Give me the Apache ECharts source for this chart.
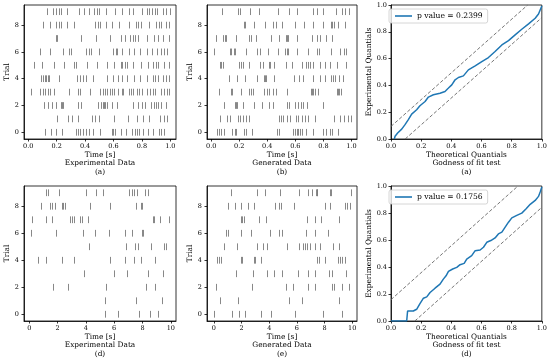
<!DOCTYPE html>
<html><head><meta charset="utf-8">
<script src="https://cdn.jsdelivr.net/npm/echarts@6/dist/echarts.min.js"></script>
<style>html,body{margin:0;padding:0;background:#fff}#c{width:550px;height:362px}</style>
</head><body><div id="c"></div>
<script>
// Spike times per trial (row index = trial 0..9)
const spikesA = [
 [0.118,0.161,0.196,0.239,0.333,0.352,0.366,0.385,0.404,0.428,0.456,0.504,0.586,0.598,0.612,0.652,0.686,0.728,0.752,0.764,0.782,0.806,0.846,0.875,0.920,0.936,0.953],
 [0.201,0.279,0.307,0.350,0.452,0.468,0.499,0.603,0.705,0.764,0.806,0.853,0.924,0.953,0.976],
 [0.109,0.137,0.168,0.196,0.227,0.236,0.243,0.350,0.374,0.492,0.511,0.523,0.534,0.541,0.556,0.586,0.626,0.740,0.771,0.799,0.823,0.865,0.887,0.898,0.910,0.934,0.972],
 [0.019,0.083,0.102,0.121,0.137,0.156,0.184,0.284,0.350,0.362,0.437,0.504,0.527,0.539,0.556,0.574,0.591,0.603,0.634,0.657,0.669,0.707,0.723,0.740,0.764,0.780,0.799,0.835,0.858,0.875,0.894,0.936,0.953,0.976,0.993],
 [0.087,0.106,0.118,0.125,0.137,0.149,0.213,0.345,0.366,0.385,0.409,0.456,0.556,0.598,0.634,0.662,0.693,0.747,0.787,0.835,0.877,0.894,0.913,0.948,0.969,0.988],
 [0.038,0.097,0.180,0.255,0.319,0.333,0.414,0.487,0.556,0.603,0.650,0.662,0.681,0.695,0.740,0.794,0.846,0.877,0.898,0.913,0.953,0.993],
 [0.083,0.154,0.243,0.286,0.298,0.404,0.426,0.444,0.499,0.598,0.617,0.626,0.657,0.707,0.742,0.787,0.835,0.870,0.903,0.934,0.953,0.976],
 [0.196,0.201,0.371,0.480,0.574,0.650,0.681,0.716,0.735,0.752,0.775,0.839,0.882,0.913,0.948,0.988],
 [0.106,0.154,0.196,0.215,0.232,0.274,0.319,0.468,0.492,0.504,0.546,0.586,0.641,0.707,0.757,0.775,0.792,0.849,0.901,0.917,0.936,0.972,0.991],
 [0.132,0.177,0.196,0.215,0.232,0.274,0.355,0.392,0.428,0.463,0.487,0.499,0.546,0.612,0.660,0.709,0.740,0.799,0.835,0.853,0.872,0.891,0.908,0.948,0.972,0.995]
];
const spikesB = [
 [0.043,0.054,0.071,0.090,0.151,0.168,0.180,0.232,0.246,0.291,0.468,0.485,0.586,0.598,0.610,0.622,0.634,0.650,0.676,0.728,0.794,0.816,0.846,0.863,0.905],
 [0.061,0.113,0.132,0.189,0.208,0.227,0.246,0.267,0.487,0.499,0.515,0.539,0.563,0.603,0.622,0.650,0.669,0.688,0.740,0.875,0.917,0.946,0.976,0.995],
 [0.090,0.168,0.177,0.184,0.225,0.307,0.362,0.409,0.444,0.544,0.556,0.598,0.622,0.638,0.657,0.681,0.799],
 [0.054,0.144,0.149,0.215,0.272,0.284,0.296,0.374,0.397,0.409,0.444,0.461,0.541,0.709,0.719,0.728,0.740,0.764,0.894,0.901,0.910,0.924],
 [0.128,0.184,0.241,0.326,0.374,0.381,0.388,0.449,0.591,0.624,0.657,0.723,0.775,0.811,0.858,0.870,0.884,0.913,0.941],
 [0.061,0.071,0.085,0.199,0.215,0.225,0.267,0.345,0.366,0.409,0.421,0.449,0.534,0.574,0.645,0.676,0.693,0.705,0.728,0.775,0.813,0.846,0.898,0.965],
 [0.019,0.132,0.144,0.161,0.173,0.246,0.326,0.345,0.404,0.473,0.527,0.539,0.551,0.610,0.693,0.757,0.771,0.851,0.917,0.946,0.965],
 [0.035,0.085,0.095,0.106,0.180,0.272,0.286,0.319,0.428,0.487,0.534,0.544,0.548,0.610,0.716,0.752,0.775,0.816,0.863],
 [0.234,0.241,0.305,0.381,0.444,0.461,0.508,0.598,0.662,0.728,0.794,0.858,0.865,0.875,0.905,0.953],
 [0.078,0.189,0.206,0.279,0.338,0.473,0.556,0.610,0.728,0.752,0.799,0.887,0.931,0.957,0.983]
];
const spikesD = [
 [5.38,6.26,7.75,8.53,9.10],
 [5.33,7.51,9.41],
 [1.66,2.73,5.45,8.27,8.89],
 [3.89,6.02,6.92,8.41,9.45],
 [0.59,1.18,2.35,3.18,5.73,6.80,7.39,7.91,8.89],
 [4.19,6.87,7.46,7.70,8.58,9.53,9.69],
 [0.12,1.87,3.77,4.62,5.62,6.75,7.23,7.94,8.06],
 [0.17,1.16,1.59,2.89,3.01,3.18,3.60,3.74,4.12,8.77,8.82,9.24,9.88],
 [0.83,1.47,1.59,1.82,2.30,2.42,2.54,4.31,5.73,7.51,7.87,7.99],
 [1.16,1.30,2.11,4.03,4.74,5.19,7.04,7.27,7.39,7.63,8.18,8.41]
];
const spikesE = [
 [0.00,1.33,1.78,2.24,3.37,4.10,5.86,7.86,9.23],
 [0.43,1.71,5.45,6.39,9.06],
 [0.12,2.72,5.20,5.69,6.77,7.30,8.51,8.70,9.23,9.78],
 [1.59,2.80,3.86,4.36,4.89,6.05,6.77,7.30,8.34,8.51,9.52],
 [0.19,0.36,0.48,1.93,2.00,2.89,2.99,3.37,7.47,7.61,8.07,8.99,9.11,9.23,9.47],
 [0.75,1.64,3.13,3.57,3.86,5.30,6.17,6.41,6.58,6.70,6.94,7.30,7.66,8.58,9.04],
 [0.84,1.04,1.93,2.65,4.05,4.72,4.89,6.63,7.30,8.22],
 [1.95,2.05,2.17,3.25,3.76,6.70,7.30,7.71,9.04],
 [1.04,1.52,1.93,2.48,2.89,4.41,4.72,4.82,5.81,8.07,8.39,9.47,9.66,9.83],
 [1.23,3.13,3.73,4.77,6.17,6.77,7.13,7.37,7.45,7.49,8.39,8.46,9.95]
];
// QQ curves
const qqAx = [0.022,0.027,0.044,0.071,0.093,0.115,0.137,0.170,0.192,0.226,0.248,0.281,0.325,0.358,0.381,0.403,0.425,0.447,0.480,0.513,0.558,0.602,0.646,0.690,0.735,0.779,0.823,0.867,0.912,0.956,0.978,0.989,1.0];
const qqAy = [0.0,0.02,0.045,0.074,0.107,0.144,0.186,0.218,0.248,0.280,0.313,0.330,0.342,0.355,0.380,0.404,0.442,0.459,0.471,0.516,0.546,0.578,0.608,0.653,0.702,0.734,0.777,0.819,0.859,0.901,0.933,0.963,0.993];
const qqDx = [0.0,0.104,0.11,0.148,0.170,0.192,0.215,0.237,0.259,0.292,0.325,0.347,0.365,0.381,0.409,0.436,0.458,0.485,0.502,0.535,0.558,0.591,0.613,0.635,0.662,0.690,0.712,0.735,0.757,0.779,0.801,0.834,0.867,0.896,0.923,0.956,0.978,0.989,1.0];
const qqDy = [0.0,0.0,0.074,0.074,0.087,0.129,0.169,0.179,0.211,0.243,0.273,0.310,0.335,0.367,0.385,0.397,0.417,0.427,0.459,0.484,0.521,0.526,0.546,0.583,0.596,0.615,0.645,0.658,0.695,0.732,0.764,0.782,0.799,0.831,0.864,0.893,0.923,0.955,0.993];
const pLabels = ['p value = 0.2399', 'p value = 0.1756'];
const bandA = 0.094, bandD = 0.158;
const rasterTitles = ['Experimental Data\n(a)', 'Generated Data\n(b)', 'Experimental Data\n(d)', 'Generated Data\n(e)'];
const qqTitles = ['Godness of fit test\n(a)', 'Godness of fit test\n(d)'];
const ticks01 = [0, 0.2, 0.4, 0.6, 0.8, 1.0];
const ticks010 = [0, 2, 4, 6, 8, 10];
const trialTicks = [0, 2, 4, 6, 8];

const FONT = 'DejaVu Serif';
const TICK_FS = 6.5, NAME_FS = 7.4;
const chart = echarts.init(document.getElementById('c'), null, {renderer: 'canvas'});

const grids = [
  {left: 24, top: 5, width: 152, height: 134},
  {left: 207, top: 5, width: 150, height: 134},
  {left: 391, top: 5, width: 151, height: 134},
  {left: 24, top: 186, width: 152, height: 135},
  {left: 207, top: 186, width: 150, height: 135},
  {left: 391, top: 186, width: 151, height: 135}
].map(g => Object.assign({show: true, borderColor: '#000', borderWidth: 0.8, containLabel: false}, g));

function baseAxis(extra) {
  return Object.assign({
    type: 'value', splitLine: {show: false},
    axisLine: {show: true, onZero: false, lineStyle: {color: '#000', width: 0.8}},
    axisTick: {show: true, inside: false, length: 2.5, lineStyle: {color: '#000', width: 0.8}},
    axisLabel: {color: '#000', fontFamily: FONT, fontSize: TICK_FS},
    nameTextStyle: {color: '#000', fontFamily: FONT, fontSize: NAME_FS, lineHeight: 8.3},
    nameLocation: 'middle'
  }, extra);
}
function fmt1(v) { return (Math.round(v * 10) / 10).toFixed(1); }

const xAxes = [], yAxes = [];
const rasterCfg = [
  {grid: 0, data: spikesA, min: -0.03, max: 1.04, ticks: ticks01, f: fmt1, t: rasterTitles[0]},
  {grid: 1, data: spikesB, min: -0.03, max: 1.04, ticks: ticks01, f: fmt1, t: rasterTitles[1]},
  {grid: 3, data: spikesD, min: -0.37, max: 10.37, ticks: ticks010, f: v => String(Math.round(v)), t: rasterTitles[2]},
  {grid: 4, data: spikesE, min: -0.5, max: 10.35, ticks: ticks010, f: v => String(Math.round(v)), t: rasterTitles[3]}
];
const series = [];
rasterCfg.forEach((c, i) => {
  xAxes.push(baseAxis({gridIndex: c.grid, min: c.min, max: c.max, name: 'Time [s]\n' + c.t, nameGap: 11.5,
    axisTick: {show: true, length: 2.5, customValues: c.ticks, lineStyle: {color: '#000', width: 0.8}},
    axisLabel: {color: '#000', fontFamily: FONT, fontSize: TICK_FS, margin: 4, customValues: c.ticks, formatter: c.f}}));
  yAxes.push(baseAxis({gridIndex: c.grid, min: -0.5, max: 9.5, name: 'Trial', nameGap: 9.5,
    axisTick: {show: true, length: 2.5, customValues: trialTicks, lineStyle: {color: '#000', width: 0.8}},
    axisLabel: {color: '#000', fontFamily: FONT, fontSize: TICK_FS, margin: 5, customValues: trialTicks, formatter: v => String(Math.round(v))}}));
  const pts = [];
  c.data.forEach((row, r) => row.forEach(t => pts.push([t, r])));
  series.push({
    type: 'custom', xAxisIndex: i, yAxisIndex: i, data: pts, silent: true,
    renderItem: function (params, api) {
      const x = api.value(0), y = api.value(1);
      const p1 = api.coord([x, y - 0.25]), p2 = api.coord([x, y + 0.25]);
      return {type: 'line', shape: {x1: Math.round(p1[0]) + 0.5, y1: p1[1], x2: Math.round(p2[0]) + 0.5, y2: p2[1]},
        style: {stroke: '#7a7a7a', lineWidth: 0.9}};
    }
  });
});
const qqCfg = [
  {grid: 2, xs: qqAx, ys: qqAy, band: bandA, name: pLabels[0], t: qqTitles[0], top: 9},
  {grid: 5, xs: qqDx, ys: qqDy, band: bandD, name: pLabels[1], t: qqTitles[1], top: 190}
];
const legends = [];
qqCfg.forEach((c, j) => {
  const ai = xAxes.length;
  xAxes.push(baseAxis({gridIndex: c.grid, min: 0, max: 1, interval: 0.2, name: 'Theoretical Quantials\n' + c.t, nameGap: 11.5,
    axisLabel: {color: '#000', fontFamily: FONT, fontSize: TICK_FS, margin: 4, formatter: fmt1, showMaxLabel: true, showMinLabel: true}}));
  yAxes.push(baseAxis({gridIndex: c.grid, min: 0, max: 1, interval: 0.2, name: 'Experimental Quantials', nameGap: 18,
    axisLabel: {color: '#000', fontFamily: FONT, fontSize: TICK_FS, margin: 4, formatter: fmt1, showMaxLabel: true, showMinLabel: true}}));
  const dash = {type: 'line', xAxisIndex: ai, yAxisIndex: ai, symbol: 'none', silent: true,
    lineStyle: {color: '#666', width: 0.9, type: [3.5, 2]}};
  series.push(Object.assign({}, dash, {data: [[0, c.band], [1 - c.band, 1]]}));
  series.push(Object.assign({}, dash, {data: [[c.band, 0], [1, 1 - c.band]]}));
  series.push({type: 'line', name: c.name, xAxisIndex: ai, yAxisIndex: ai, symbol: 'none',
    data: c.xs.map((x, k) => [x, c.ys[k]]), lineStyle: {color: '#1f77b4', width: 1.5}, itemStyle: {color: '#1f77b4'}});
  legends.push({data: [c.name], left: 389, top: c.top, orient: 'horizontal', icon: 'rect', itemWidth: 17, itemHeight: 1.6,
    padding: [3, 5, 3, 6], borderColor: '#ccc', borderWidth: 0.8, borderRadius: 2, backgroundColor: 'rgba(255,255,255,0.8)',
    textStyle: {color: '#000', fontFamily: FONT, fontSize: 7.6}, selectedMode: false});
});

chart.setOption({
  animation: false,
  backgroundColor: '#fff',
  grid: grids,
  xAxis: xAxes,
  yAxis: yAxes,
  legend: legends,
  series: series
});
</script>
</body></html>
